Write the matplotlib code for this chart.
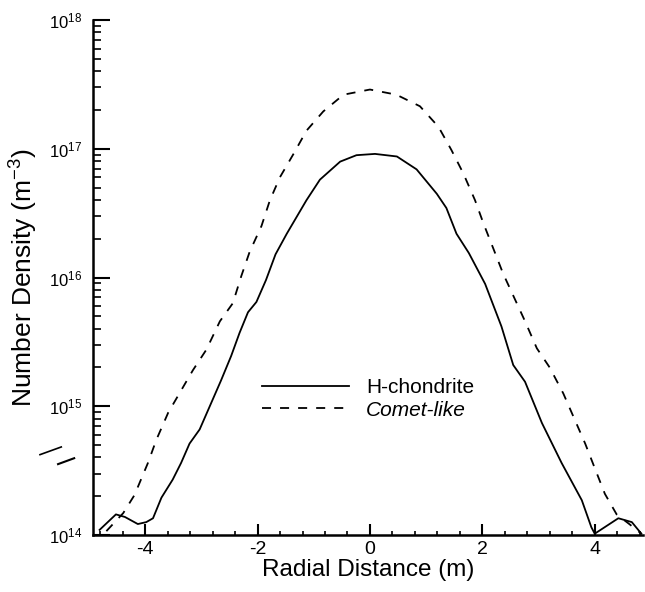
import numpy as np
import matplotlib
matplotlib.use("Agg")
from matplotlib import pyplot as plt
from matplotlib.ticker import FixedLocator, MultipleLocator, LogLocator, NullFormatter
from matplotlib.lines import Line2D

plt.rcParams['font.family'] = ['Liberation Sans', 'DejaVu Sans']
plt.rcParams['mathtext.fontset'] = 'custom'
plt.rcParams['mathtext.rm'] = 'Liberation Sans'
plt.rcParams['mathtext.it'] = 'Liberation Sans:italic'

# H-chondrite profile (radial distance m, log10 number density m^-3)
h_x = [-4.81, -4.52, -4.36, -4.13, -3.98, -3.86, -3.71, -3.51, -3.36, -3.21,
       -3.03, -2.85, -2.65, -2.47, -2.32, -2.17, -2.02, -1.85, -1.68, -1.48,
       -1.13, -0.89, -0.53, -0.24, 0.09, 0.48, 0.83, 1.19, 1.36, 1.54,
       1.76, 2.05, 2.34, 2.55, 2.76, 3.06, 3.41, 3.77, 3.94, 4.00,
       4.42, 4.66, 4.83]
h_logn = [14.04, 14.16, 14.14, 14.085, 14.10, 14.13, 14.29, 14.43, 14.56, 14.71,
          14.82, 15.00, 15.20, 15.39, 15.57, 15.73, 15.81, 15.98, 16.18, 16.34,
          16.60, 16.76, 16.90, 16.95, 16.96, 16.94, 16.84, 16.65, 16.54, 16.34,
          16.19, 15.95, 15.62, 15.32, 15.19, 14.87, 14.56, 14.27, 14.06, 14.01,
          14.13, 14.10, 14.01]

# comet-like profile
c_x = [-4.69, -4.39, -4.19, -3.95, -3.80, -3.59, -3.39, -3.15, -2.91, -2.67,
       -2.44, -2.29, -2.14, -1.93, -1.78, -1.60, -1.36, -1.13, -0.83, -0.47,
       0.00, 0.47, 0.89, 1.22, 1.45, 1.66, 1.87, 2.02, 2.20, 2.37,
       2.76, 2.97, 3.20, 3.44, 3.65, 3.83, 4.00, 4.18, 4.39, 4.60, 4.83]
c_logn = [14.03, 14.17, 14.31, 14.56, 14.74, 14.95, 15.10, 15.28, 15.44, 15.66,
          15.80, 16.01, 16.20, 16.40, 16.60, 16.78, 16.96, 17.14, 17.29, 17.42,
          17.46, 17.42, 17.33, 17.17, 16.99, 16.81, 16.60, 16.42, 16.22, 16.03,
          15.66, 15.45, 15.30, 15.10, 14.89, 14.71, 14.52, 14.32, 14.16, 14.09, 14.01]

x_major = [-4, -2, 0, 2, 4]
x_labels = ['-4', '-2', '0', '2', '4']

fig = plt.figure(figsize=(6.45, 5.92), dpi=100)
ax = fig.add_axes([0.144, 0.0963, 0.853, 0.8699])

ax.plot(h_x, 10.0 ** np.array(h_logn), color='black', lw=1.3, label='H-chondrite')
ax.plot(c_x, 10.0 ** np.array(c_logn), color='black', lw=1.3, dashes=(5, 5),
        label='Comet-like')

ax.set_yscale('log')
ax.set_xlim(-4.93, 4.86)
ax.set_ylim(1e14, 1e18)

ax.xaxis.set_major_locator(FixedLocator(x_major))
ax.set_xticklabels(x_labels)
ax.xaxis.set_minor_locator(MultipleLocator(0.4))
ax.yaxis.set_major_locator(LogLocator(base=10, numticks=10))
ax.yaxis.set_minor_locator(LogLocator(base=10, subs=np.arange(2, 10), numticks=20))
ax.yaxis.set_minor_formatter(NullFormatter())

ax.tick_params(axis='x', which='major', direction='in', length=8, width=1.5,
               labelsize=14, pad=4)
ax.tick_params(axis='x', which='minor', direction='in', length=3, width=1.2)
ax.tick_params(axis='y', which='major', direction='in', length=12, width=1.5,
               labelsize=12, pad=8)
ax.tick_params(axis='y', which='minor', direction='in', length=6, width=1.2)

for side in ['top', 'right']:
    ax.spines[side].set_visible(False)
for side in ['left', 'bottom']:
    ax.spines[side].set_linewidth(1.8)

ax.set_xlabel('Radial Distance (m)', fontsize=17.5, labelpad=1)
ax.set_ylabel('Number Density (m$^{-3}$)', fontsize=19, labelpad=6)

leg = ax.legend(loc='center', bbox_to_anchor=(0.5, 0.264), frameon=False,
                fontsize=15, handlelength=4.2, handletextpad=0.8,
                labelspacing=0.15)
leg.get_texts()[1].set_fontstyle('italic')

# stray strokes left of the axis
fig.add_artist(Line2D([0.062, 0.095], [0.232, 0.245], color='black', lw=1.2))
fig.add_artist(Line2D([0.09, 0.115], [0.216, 0.226], color='black', lw=1.5))

fig.savefig('out.png', dpi=100)
